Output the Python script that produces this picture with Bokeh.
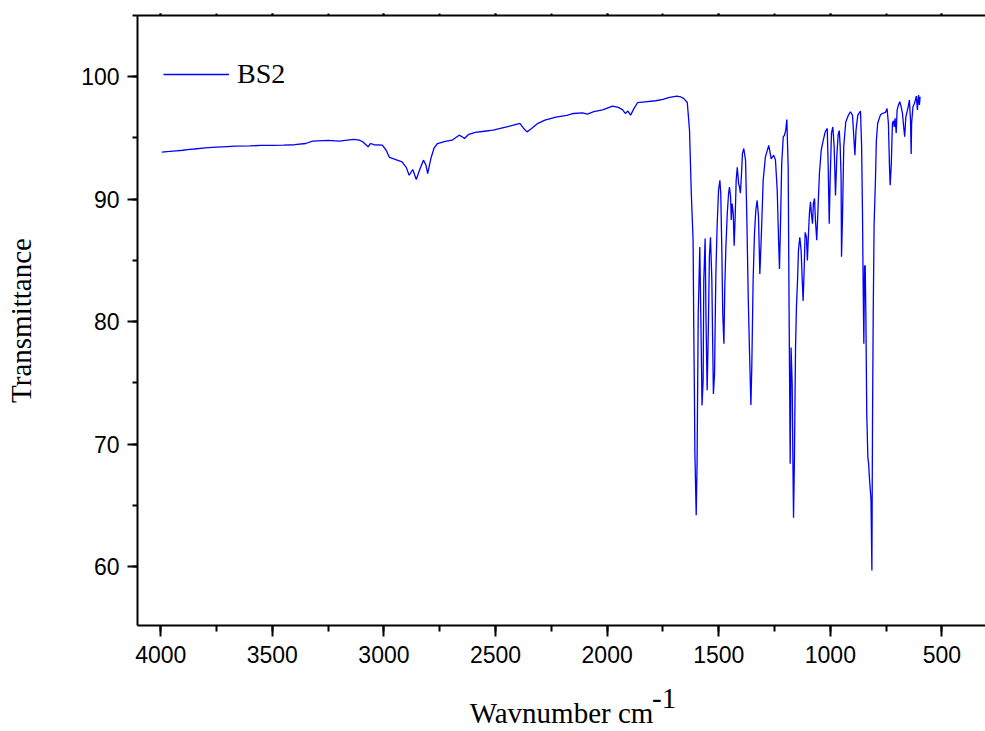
from bokeh.plotting import figure
from bokeh.models import (Range1d, LinearAxis, Legend, LegendItem,
                          SingleIntervalTicker, FixedTicker)
from bokeh.embed import file_html
from bokeh.resources import INLINE

series_name = "BS2"
x_title = "Wavnumber cm"
x_title_sup = "-1"
x_title_sup_at = 1745
y_title = "Transmittance"

wavenumber = [
    3995, 3960, 3930, 3900, 3880, 3850, 3800, 3750, 3700, 3670, 3600, 3550, 3500, 3450,
    3400, 3350, 3320, 3250, 3200, 3136, 3110, 3095, 3071, 3060, 3045, 3007, 2990, 2975,
    2950, 2919, 2900, 2887, 2871, 2855, 2840, 2823, 2812, 2804, 2790, 2775, 2760, 2730,
    2695, 2663, 2650, 2639, 2620, 2591, 2550, 2511, 2450, 2420, 2391, 2375, 2359, 2340,
    2310, 2279, 2230, 2180, 2151, 2110, 2088, 2060, 2020, 1976, 1950, 1930, 1919, 1907,
    1895, 1880, 1864, 1830, 1783, 1750, 1720, 1688, 1670, 1657, 1641, 1631, 1623, 1615,
    1612, 1609, 1607, 1601, 1597, 1592, 1588, 1585, 1581, 1578, 1575, 1570, 1567, 1561,
    1557, 1552, 1546, 1542, 1537, 1531, 1528, 1524, 1519, 1513, 1507, 1501, 1495, 1491,
    1486, 1482, 1477, 1473, 1468, 1462, 1456, 1452, 1447, 1444, 1440, 1435, 1431, 1426,
    1422, 1417, 1411, 1407, 1403, 1398, 1394, 1388, 1380, 1374, 1368, 1362, 1356, 1352,
    1346, 1340, 1334, 1328, 1322, 1316, 1310, 1306, 1301, 1291, 1276, 1265, 1254, 1246,
    1238, 1232, 1228, 1223, 1218, 1211, 1206, 1200, 1195, 1189, 1185, 1180, 1176, 1171,
    1168, 1165, 1161, 1156, 1152, 1147, 1143, 1137, 1131, 1126, 1122, 1117, 1113, 1107,
    1103, 1098, 1094, 1089, 1085, 1080, 1076, 1071, 1067, 1061, 1055, 1049, 1041, 1032,
    1023, 1014, 1010, 1005, 1001, 995, 989, 983, 977, 971, 965, 960, 956, 952,
    950, 946, 940, 931, 919, 910, 901, 895, 890, 885, 877, 865, 860, 856,
    853, 850, 847, 844, 841, 837, 832, 829, 824, 818, 814, 811, 808, 804,
    798, 794, 788, 776, 768, 753, 746, 740, 735, 732, 727, 722, 717, 714,
    710, 705, 701, 695, 689, 683, 677, 671, 667, 662, 653, 646, 641, 638,
    636, 630, 624, 619, 615, 610, 607, 605, 601, 598,
]

transmittance = [
    93.85, 93.9, 93.95, 94.0, 94.05, 94.1, 94.2, 94.25, 94.3, 94.33, 94.35, 94.4, 94.4, 94.42,
    94.45, 94.55, 94.74, 94.8, 94.75, 94.88, 94.82, 94.69, 94.28, 94.55, 94.45, 94.41, 94.0, 93.41,
    93.25, 93.05, 92.6, 91.96, 92.43, 91.61, 92.4, 93.19, 92.8, 92.1, 93.3, 94.2, 94.55, 94.7,
    94.82, 95.23, 95.1, 94.96, 95.3, 95.45, 95.55, 95.64, 95.9, 96.05, 96.19, 95.8, 95.5, 95.75,
    96.2, 96.46, 96.7, 96.85, 97.0, 97.05, 96.95, 97.15, 97.3, 97.6, 97.5, 97.3, 97.0, 97.2,
    96.87, 97.4, 97.88, 97.95, 98.04, 98.15, 98.31, 98.42, 98.35, 98.23, 97.9, 95.64, 90.47, 86.65,
    79.56, 74.1, 69.34, 64.2, 68.66, 80.65, 83.65, 86.1, 81.2, 77.4, 73.16, 75.2, 83.4, 86.8,
    80.1, 74.4, 80.1, 85.3, 86.9, 83.4, 79.3, 74.1, 75.7, 83.9, 88.0, 90.7, 91.55, 90.47,
    85.56, 80.65, 78.2, 82.8, 86.1, 88.8, 90.47, 91.0, 90.2, 88.3, 89.65, 88.8, 86.2, 88.8,
    91.55, 92.6, 91.28, 91.0, 90.5, 92.1, 93.7, 94.14, 93.19, 88.3, 82.0, 77.4, 73.2, 76.3,
    83.4, 87.2, 89.1, 89.9, 88.6, 83.9, 86.65, 88.8, 91.55, 93.46, 94.4, 93.3, 93.6, 93.2,
    90.7, 86.65, 84.3, 88.3, 92.9, 95.1, 95.2, 95.64, 96.5, 92.6, 81.2, 68.4, 77.9, 74.9,
    68.9, 64.0, 68.9, 77.9, 81.2, 83.4, 85.8, 86.9, 85.8, 83.4, 81.7, 84.5, 87.3, 86.9,
    85.0, 87.2, 88.8, 89.8, 88.8, 88.0, 89.65, 90.06, 88.3, 86.65, 89.4, 92.1, 94.0, 94.8,
    95.5, 95.78, 92.9, 88.0, 91.55, 95.4, 95.9, 94.3, 90.3, 93.5, 95.3, 95.6, 94.3, 91.8,
    85.3, 88.3, 94.3, 96.3, 96.87, 97.14, 96.87, 95.1, 93.6, 95.64, 96.87, 97.2, 94.3, 88.8,
    82.8, 78.2, 84.5, 84.6, 80.65, 72.5, 68.9, 68.5, 67.0, 65.5, 59.7, 72.5, 80.65, 88.0,
    91.55, 94.8, 96.2, 96.87, 97.0, 97.1, 97.4, 96.2, 92.6, 91.15, 92.9, 96.2, 96.4, 95.9,
    96.6, 95.4, 97.28, 97.7, 97.96, 97.55, 97.0, 95.8, 95.1, 96.7, 97.4, 98.1, 96.46, 93.7,
    96.2, 97.55, 97.8, 98.1, 98.42, 97.28, 98.15, 98.5, 97.7, 98.37,
]

x_tick_step = 500
y_tick_step = 10

SANS = "Liberation Sans"
SERIF = "Liberation Serif"

p = figure(width=985, height=731, output_backend="svg", toolbar_location=None,
           x_range=Range1d(4104, 305), y_range=Range1d(55.2, 105),
           min_border_left=137, min_border_top=15, min_border_right=0,
           min_border_bottom=106, x_axis_location=None, y_axis_location=None)
p.grid.visible = False
p.outline_line_color = None
p.background_fill_color = "white"
p.border_fill_color = "white"

xt = SingleIntervalTicker(interval=x_tick_step, num_minor_ticks=2)
yt = SingleIntervalTicker(interval=y_tick_step, num_minor_ticks=2)


def style_axis(ax, tick_out, minor_out):
    ax.axis_line_width = 2
    ax.axis_line_color = "black"
    ax.major_tick_line_width = 2
    ax.minor_tick_line_width = 2
    ax.major_tick_in = 0
    ax.minor_tick_in = 0
    ax.major_tick_out = tick_out
    ax.minor_tick_out = minor_out
    ax.major_label_text_font = SANS
    ax.major_label_text_font_size = "23px"
    ax.major_label_text_color = "black"


# bottom axis with the main part of the title
xb = LinearAxis(ticker=xt, axis_label=x_title)
style_axis(xb, 11, 6)
xb.major_label_standoff = 9
xb.axis_label_text_font = SERIF
xb.axis_label_text_font_size = "29px"
xb.axis_label_text_font_style = "normal"
xb.axis_label_text_color = "black"
xb.axis_label_standoff = 31
p.add_layout(xb, "below")

# superscript of the x title, pulled up next to the title
xs = LinearAxis(ticker=FixedTicker(ticks=[x_title_sup_at], minor_ticks=[]),
                major_label_overrides={x_title_sup_at: x_title_sup})
xs.axis_line_color = None
xs.major_tick_line_color = None
xs.minor_tick_line_color = None
xs.major_tick_out = 0
xs.major_tick_in = 0
xs.major_label_text_font = SERIF
xs.major_label_text_font_size = "29px"
xs.major_label_text_color = "black"
xs.major_label_standoff = -43
p.add_layout(xs, "below")

# top frame line with tiny ticks, no labels
xa = LinearAxis(ticker=xt)
style_axis(xa, 2, 2)
xa.major_label_text_color = None
xa.major_label_text_font_size = "1px"
xa.major_label_standoff = 0
p.add_layout(xa, "above")

yl = LinearAxis(ticker=yt, axis_label=y_title)
style_axis(yl, 10, 5)
yl.major_label_standoff = 8
yl.axis_label_text_font = SERIF
yl.axis_label_text_font_size = "29px"
yl.axis_label_text_font_style = "normal"
yl.axis_label_text_color = "black"
yl.axis_label_standoff = 41
p.add_layout(yl, "left")

r = p.line(wavenumber, transmittance, line_color="#0000FF", line_width=1.3)

legend = Legend(items=[LegendItem(label=series_name, renderers=[r])],
                location=(26, 535), glyph_width=66, glyph_height=30,
                label_height=30, label_standoff=8, padding=0, margin=0,
                label_text_font=SERIF, label_text_font_size="28px",
                label_text_color="black", border_line_color=None,
                background_fill_alpha=0)
p.add_layout(legend)

open("out.html", "w").write(file_html(p, INLINE))
